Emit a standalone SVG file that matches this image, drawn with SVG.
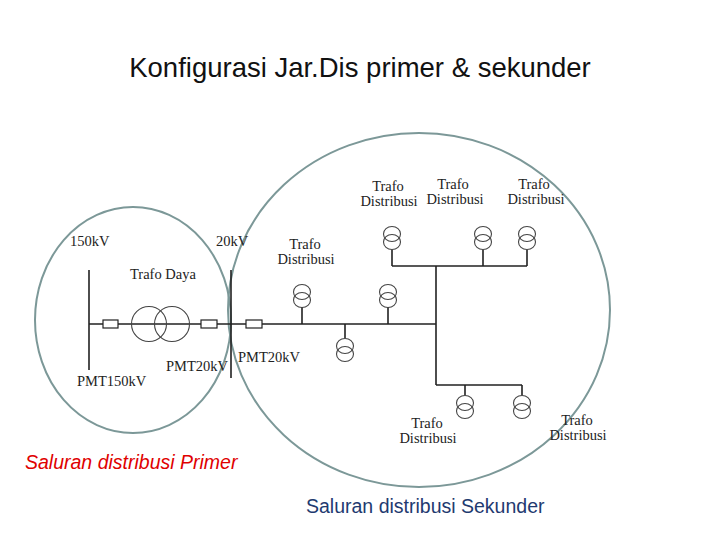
<svg xmlns="http://www.w3.org/2000/svg" width="720" height="540" viewBox="0 0 720 540">
<defs>
<style>
.ln{stroke:#222;stroke-width:1.6;fill:none}
.br{stroke:#222;stroke-width:1.2;fill:#fff}
.tr{stroke:#444;stroke-width:1.1;fill:none}
.lb{font-family:"Liberation Serif",serif;font-size:14.5px;fill:#222}
.zone{fill:none;stroke:#7c9898;stroke-width:2}
</style>
<g id="td"><ellipse class="tr" cx="0" cy="-4" rx="8.5" ry="7.5"/><ellipse class="tr" cx="0" cy="4" rx="8.5" ry="7.5"/></g>
</defs>
<rect width="720" height="540" fill="#fff"/>
<text x="360" y="77" text-anchor="middle" font-family="Liberation Sans,sans-serif" font-size="27.5" fill="#111">Konfigurasi Jar.Dis primer &amp; sekunder</text>
<g id="zones">
<ellipse class="zone" cx="133" cy="320" rx="98" ry="113"/>
<ellipse class="zone" cx="419" cy="310" rx="191" ry="177"/>
</g>
<g id="connectors">
<path class="ln" d="M89 270V370 M89 324H436 M231 270V378 M436 266V385 M392 266H527 M436 385H522 M302 307V324 M388 307V324 M345 324V338 M392 250V266 M483 250V266 M527 250V266 M465 385V395 M522 385V395"/>
</g>
<g id="breakers">
<rect class="br" x="103" y="320" width="15" height="8"/>
<rect class="br" x="201" y="320" width="16" height="8"/>
<rect class="br" x="246" y="320" width="16" height="8"/>
</g>
<g id="trafo-daya">
<circle class="tr" cx="149" cy="324" r="17.5"/>
<circle class="tr" cx="172" cy="324" r="17.5"/>
</g>
<g id="trafo-dist">
<use href="#td" x="302" y="296"/>
<use href="#td" x="388" y="296"/>
<use href="#td" x="345" y="350"/>
<use href="#td" x="392" y="238"/>
<use href="#td" x="483" y="238"/>
<use href="#td" x="527" y="238"/>
<use href="#td" x="465" y="407"/>
<use href="#td" x="522" y="407"/>
</g>
<g id="labels" class="lb">
<text x="70" y="246">150kV</text>
<text x="216" y="246">20kV</text>
<text x="130" y="279">Trafo Daya</text>
<text x="166" y="371">PMT20kV</text>
<text x="238" y="362">PMT20kV</text>
<text x="77" y="386">PMT150kV</text>
<g text-anchor="middle">
<text x="305" y="249">Trafo</text><text x="306" y="264">Distribusi</text>
<text x="388" y="191">Trafo</text><text x="389" y="206">Distribusi</text>
<text x="453" y="189">Trafo</text><text x="455" y="204">Distribusi</text>
<text x="534" y="189">Trafo</text><text x="536" y="204">Distribusi</text>
<text x="427" y="428">Trafo</text><text x="428" y="443">Distribusi</text>
<text x="577" y="425">Trafo</text><text x="578" y="440">Distribusi</text>
</g>
</g>
<text x="25" y="469" font-family="Liberation Sans,sans-serif" font-size="19.5" font-style="italic" fill="#e00000">Saluran distribusi Primer</text>
<text x="306" y="513" font-family="Liberation Sans,sans-serif" font-size="19.5" fill="#1f3a70">Saluran distribusi Sekunder</text>
</svg>
